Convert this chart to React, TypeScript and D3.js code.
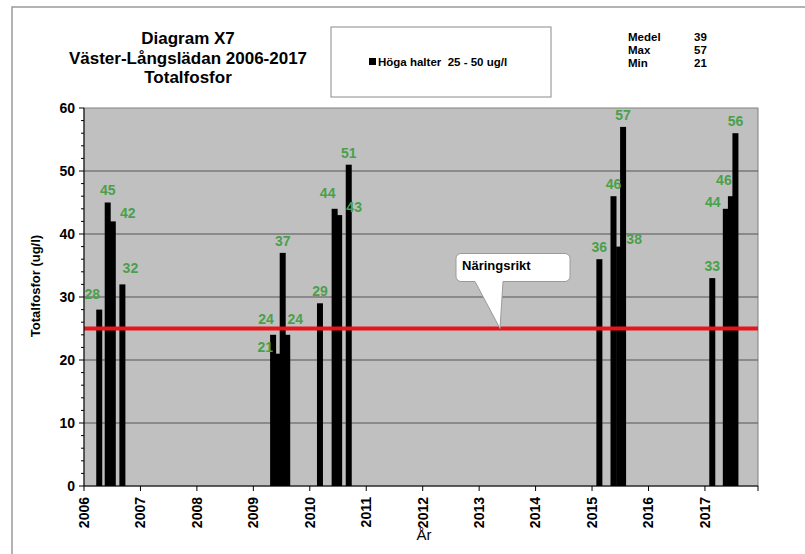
import { useMemo } from 'react';
import * as d3 from 'd3';

// sampling dates as decimal years, and measured totalfosfor (ug/l)
const sampleYears = [
  2006.27, 2006.42, 2006.51, 2006.68,
  2009.35, 2009.44, 2009.52, 2009.60,
  2010.18, 2010.44, 2010.52, 2010.69,
  2015.13, 2015.38, 2015.48, 2015.55,
  2017.13, 2017.37, 2017.46, 2017.54,
];
const values = [
  28, 45, 42, 32,
  24, 21, 37, 24,
  29, 44, 43, 51,
  36, 46, 38, 57,
  33, 44, 46, 56,
];
// where each value label sits relative to its bar
const labelPlacement = [
  'aboveLeft', 'above', 'right', 'aboveRight',
  'aboveLeft', 'left', 'above', 'aboveRight',
  'above', 'aboveLeft', 'right', 'above',
  'above', 'above', 'right', 'above',
  'above', 'left', 'aboveLeft', 'above',
];
const yearTicks = [2006, 2007, 2008, 2009, 2010, 2011, 2012, 2013, 2014, 2015, 2016, 2017];
const yTicks = [0, 10, 20, 30, 40, 50, 60];
const limitValue = 25;
const calloutYear = 2013.37;
const titleLines = ['Diagram X7', 'Väster-Långslädan 2006-2017', 'Totalfosfor'];
const statLabels = ['Medel', 'Max', 'Min'];
const statValues = [39, 57, 21];

const FONT = '"Liberation Sans", Arial, sans-serif';
const GREEN = '#4aa04a';

const offsets: Record<string, [number, number]> = {
  above: [0, -12],
  aboveLeft: [-7, -16],
  aboveRight: [8, -16],
  right: [15, -8],
  left: [-13, -7],
};

const App = () => {
  const left = 84, right = 758, top = 108, bottom = 486;

  const xScale = useMemo(() => d3.scaleLinear().domain([2006, 2017.94]).range([left, right]), []);
  const yScale = useMemo(() => d3.scaleLinear().domain([0, 60]).range([bottom, top]), []);
  const minorTicks = useMemo(() => d3.range(0, 61, 2).filter(v => v % 10 !== 0), []);

  const barW = 6;
  const tipX = xScale(calloutYear);
  const tipY = yScale(limitValue);

  // callout bubble with pointer
  const callout = useMemo(() => {
    const bx0 = tipX - 44, bx1 = tipX + 70, by0 = tipY - 75, by1 = tipY - 47, r = 5;
    const p = d3.path();
    p.moveTo(bx0 + r, by0);
    p.lineTo(bx1 - r, by0);
    p.arcTo(bx1, by0, bx1, by0 + r, r);
    p.lineTo(bx1, by1 - r);
    p.arcTo(bx1, by1, bx1 - r, by1, r);
    p.lineTo(tipX + 3, by1);
    p.lineTo(tipX, tipY);
    p.lineTo(tipX - 25, by1);
    p.lineTo(bx0 + r, by1);
    p.arcTo(bx0, by1, bx0, by1 - r, r);
    p.lineTo(bx0, by0 + r);
    p.arcTo(bx0, by0, bx0 + r, by0, r);
    p.closePath();
    return { d: p.toString(), tx: bx0 + 6, ty: by0 + 16 };
  }, [tipX, tipY]);

  return (
    <svg width="805" height="554" style={{ position: 'absolute', left: 0, top: 0 }} fontFamily={FONT}>
      <rect x="0" y="0" width="805" height="554" fill="#fff" />
      {/* outer chart frame */}
      <rect x="12" y="7" width="810" height="570" fill="none" stroke="#9a9a9a" strokeWidth="1.5" />

      {/* title */}
      {titleLines.map((t, i) => (
        <text key={t} x="188" y={44 + i * 19.5} textAnchor="middle" fontSize="17" fontWeight="bold">{t}</text>
      ))}

      {/* legend */}
      <rect x="331" y="27" width="220" height="70" fill="#fff" stroke="#8a8a8a" />
      <rect x="369" y="58" width="7" height="7" fill="#000" />
      <text x="378" y="65.5" fontSize="11.5" fontWeight="bold" style={{ whiteSpace: 'pre' }}>Höga halter  25 - 50 ug/l</text>

      {/* stats */}
      {statLabels.map((s, i) => (
        <g key={s}>
          <text x="628" y={41 + i * 13} fontSize="11.5" fontWeight="bold">{s}</text>
          <text x="694" y={41 + i * 13} fontSize="11.5" fontWeight="bold">{statValues[i]}</text>
        </g>
      ))}

      {/* plot area */}
      <rect x={left} y={top} width={right - left} height={bottom - top} fill="#c0c0c0" stroke="#808080" />
      {yTicks.filter(v => v > 0 && v < 60).map(v => (
        <line key={v} x1={left} x2={right} y1={yScale(v)} y2={yScale(v)} stroke="#555" strokeWidth="1" />
      ))}

      {/* bars */}
      {sampleYears.map((yr, i) => (
        <rect key={i} x={xScale(yr) - barW / 2} y={yScale(values[i])} width={barW}
          height={yScale(0) - yScale(values[i])} fill="#000" />
      ))}

      {/* limit line */}
      <line x1={left} x2={right} y1={tipY} y2={tipY} stroke="#e8141a" strokeWidth="4" />

      {/* value labels */}
      {sampleYears.map((yr, i) => {
        const [dx, dy] = offsets[labelPlacement[i]];
        return (
          <text key={i} x={xScale(yr) + dx} y={yScale(values[i]) + dy} dy="0.35em"
            textAnchor="middle" fontSize="14" fontWeight="bold" fill={GREEN}>{values[i]}</text>
        );
      })}

      {/* callout */}
      <path d={callout.d} fill="#fff" stroke="#9a9a9a" />
      <text x={callout.tx} y={callout.ty} fontSize="13" fontWeight="bold">Näringsrikt</text>

      {/* y axis */}
      <line x1={left} x2={left} y1={top} y2={bottom} stroke="#000" />
      {yTicks.map(v => (
        <g key={v} transform={`translate(${left}, ${yScale(v)})`}>
          <line x2="-5" stroke="#000" />
          <text x="-9" dy="0.35em" textAnchor="end" fontSize="14" fontWeight="bold">{v}</text>
        </g>
      ))}
      {minorTicks.map(v => (
        <line key={v} x1={left - 3} x2={left} y1={yScale(v)} y2={yScale(v)} stroke="#000" />
      ))}
      <text transform="translate(40, 286) rotate(-90)" textAnchor="middle" fontSize="13" fontWeight="bold">
        Totalfosfor (ug/l)
      </text>

      {/* x axis */}
      <line x1={left} x2={right} y1={bottom} y2={bottom} stroke="#000" />
      {yearTicks.map(yr => (
        <g key={yr} transform={`translate(${xScale(yr)}, ${bottom})`}>
          <line y2="5" stroke="#000" />
          <text transform="translate(0, 11) rotate(-90)" dy="0.35em" textAnchor="end" fontSize="14" fontWeight="bold">{yr}</text>
        </g>
      ))}
      <line x1={right} x2={right} y1={bottom} y2={bottom + 5} stroke="#000" />
      <text x="424" y="540" textAnchor="middle" fontSize="15">År</text>
    </svg>
  );
};

export default App;
